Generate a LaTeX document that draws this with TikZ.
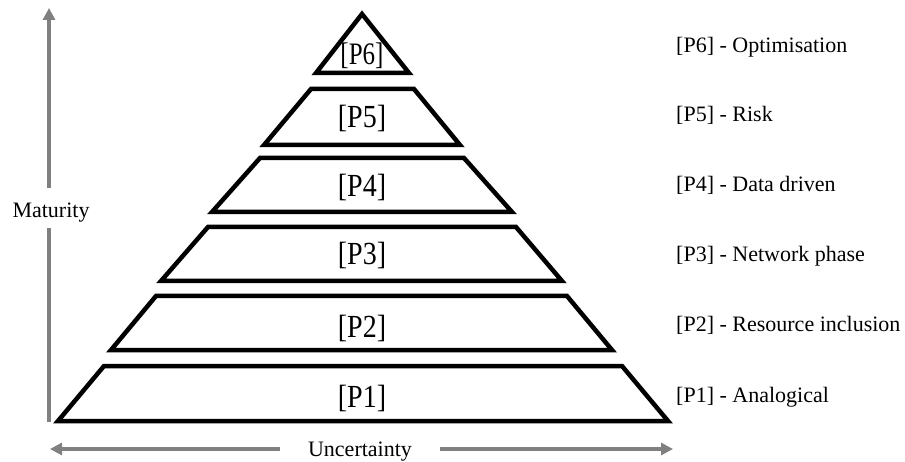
\documentclass[tikz,border=0pt]{standalone}
\usepackage{fontspec}
\setmainfont{Liberation Serif}
\usetikzlibrary{arrows.meta}
\definecolor{axisgray}{RGB}{128,128,128}
\tikzset{
  layer/.style={draw=black, line width=4.5pt, line join=miter},
  layertext/.style={font=\fontsize{28}{32}\selectfont, inner sep=0pt, anchor=base, yscale=1.15},
  toptext/.style={font=\fontsize{25}{30}\selectfont, inner sep=0pt, anchor=base, yscale=1.25},
  phaselabel/.style={font=\fontsize{22}{26}\selectfont, inner sep=0pt, anchor=base west},
  axisline/.style={draw=axisgray, line width=4pt},
  axisarrow/.style={axisline, -{Triangle[length=12pt,width=12pt]}},
}
\begin{document}
\begin{tikzpicture}[x=1pt,y=1pt]
  \useasboundingbox (0,0) rectangle (905,461);

  % pyramid layers, bottom to top
  \draw[layer] (58,40) -- (668,40) -- (622,95) -- (104,95) -- cycle;
  \draw[layer] (111,111) -- (612,111) -- (567,165) -- (156,165) -- cycle;
  \draw[layer] (161,180) -- (562,180) -- (516,234) -- (208,234) -- cycle;
  \draw[layer] (212,249) -- (512,249) -- (464,303) -- (260,303) -- cycle;
  \draw[layer] (264,316) -- (460,316) -- (414,372) -- (311,372) -- cycle;
  \draw[layer] (316,388) -- (409,388) -- (362,447) -- cycle;

  % layer captions
  \node[layertext] (p1) at (362,54)  {[P1]};
  \node[layertext] (p2) at (362,124) {[P2]};
  \node[layertext] (p3) at (362,196) {[P3]};
  \node[layertext] (p4) at (362,264) {[P4]};
  \node[layertext] (p5) at (362,333) {[P5]};
  \node[toptext]   (p6) at (362,396) {[P6]};

  % phase legend
  \node[phaselabel] (l6) at (676,408) {[P6] - Optimisation};
  \node[phaselabel] (l5) at (676,339) {[P5] - Risk};
  \node[phaselabel] (l4) at (676,269) {[P4] - Data driven};
  \node[phaselabel] (l3) at (676,199) {[P3] - Network phase};
  \node[phaselabel] (l2) at (676,129) {[P2] - Resource inclusion};
  \node[phaselabel] (l1) at (676,59)  {[P1] - Analogical};

  % maturity axis
  \node[font=\fontsize{22}{26}\selectfont, inner sep=0pt, anchor=base,
        text height=30pt, text depth=10pt] (maturity) at (51,243) {Maturity};
  \coordinate (mattop) at (49,453);
  \coordinate (matbot) at (49,39);
  \draw[axisarrow] (maturity.north -| mattop) -- (mattop);
  \draw[axisline] (maturity.south -| matbot) -- (matbot);

  % uncertainty axis
  \node[font=\fontsize{22}{26}\selectfont, inner ysep=0pt, inner xsep=28pt, anchor=base,
        text height=14pt, text depth=0pt] (uncert) at (360,5) {Uncertainty};
  \coordinate (uncleft) at (50,12);
  \coordinate (uncright) at (673,12);
  \draw[axisarrow] (uncert.west) -- (uncleft);
  \draw[axisarrow] (uncert.east) -- (uncright);
\end{tikzpicture}
\end{document}
